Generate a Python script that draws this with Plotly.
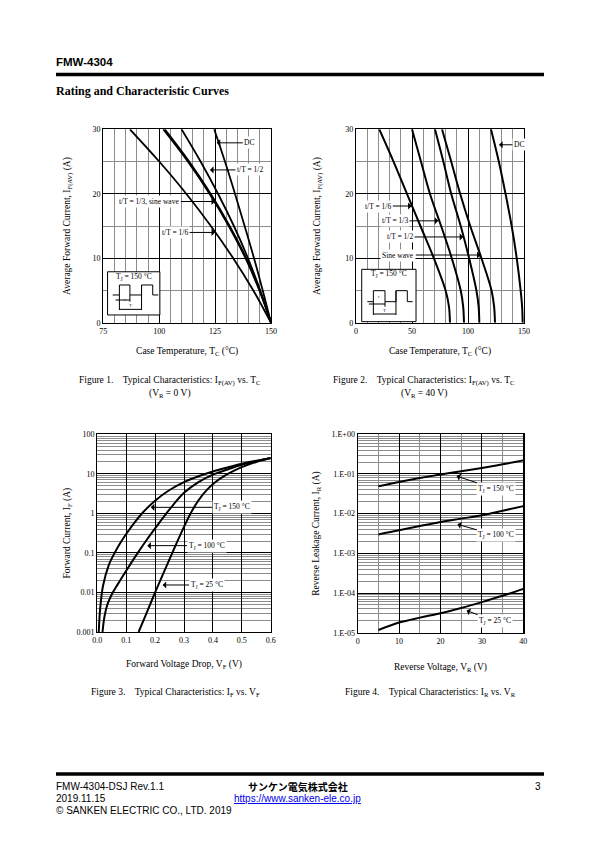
import plotly.graph_objects as go

# ---------------- DATA ----------------
# Figure 1: I_F(AV) vs Tc, VR = 0 V
f1_current = [0, 5, 10, 15, 20, 25, 30]
f1_tc_dc = [150, 146.3, 142.4, 138.2, 133.9, 129.4, 124.6]
f1_tc_half = [150, 145.2, 139.7, 133.4, 126.3, 118.5, 110.0]
f1_tc_sine = [150, 145.0, 138.9, 131.5, 123.0, 113.4, 102.5]
f1_tc_third = [150, 144.8, 138.6, 131.1, 122.5, 112.8, 101.8]
f1_tc_sixth = [150, 142.1, 133.1, 123.1, 112.1, 100.0, 86.9]

# Figure 2: I_F(AV) vs Tc, VR = 40 V
f2_current = [0, 2.5, 5, 10, 15, 20, 25, 30]
f2_tc_dc = [148.8, 148.3, 147.0, 143.5, 139.0, 133.5, 127.5, 120.5]
f2_tc_sine = [124.1, 123.3, 121.0, 112.0, 102.0, 93.0, 85.0, 76.8]
f2_tc_half = [110.1, 109.5, 107.5, 101.0, 93.5, 85.0, 78.0, 70.5]
f2_tc_third = [96.4, 95.7, 93.5, 85.5, 76.0, 66.0, 58.0, 50.0]
f2_tc_sixth = [83.9, 83.0, 80.0, 69.5, 57.5, 45.5, 33.5, 20.8]

# Figure 3: I_F vs V_F
f3_v_150 = [0.005, 0.01, 0.02, 0.04, 0.06, 0.08, 0.10, 0.13, 0.16, 0.20, 0.25, 0.30, 0.35, 0.40, 0.45, 0.50, 0.55, 0.60]
f3_i_150 = [0.001, 0.004, 0.015, 0.05, 0.1, 0.18, 0.3, 0.6, 1.1, 2.1, 3.9, 6.2, 8.7, 11.5, 14.5, 18, 21.4, 25]
f3_v_100 = [0.018, 0.025, 0.035, 0.05, 0.07, 0.10, 0.14, 0.17, 0.20, 0.25, 0.30, 0.35, 0.40, 0.45, 0.50, 0.55, 0.60]
f3_i_100 = [0.001, 0.0025, 0.005, 0.0089, 0.0158, 0.0355, 0.1, 0.209, 0.417, 1.26, 3.31, 6.17, 9.55, 12.9, 17.0, 20.9, 25.1]
f3_v_25 = [0.143, 0.17, 0.20, 0.23, 0.26, 0.29, 0.32, 0.35, 0.38, 0.41, 0.44, 0.47, 0.50, 0.55, 0.60]
f3_i_25 = [0.001, 0.00295, 0.01, 0.0324, 0.102, 0.316, 0.91, 2.14, 4.0, 6.3, 8.9, 11.7, 14.8, 20.0, 25.1]

# Figure 4: I_R vs V_R
f4_v = [5, 10, 15, 20, 25, 30, 35, 40]
f4_i_150 = [0.049, 0.063, 0.079, 0.097, 0.117, 0.142, 0.175, 0.22]
f4_i_100 = [0.0030, 0.0038, 0.0049, 0.0062, 0.0075, 0.0091, 0.0118, 0.0155]
f4_i_25 = [1.17e-5, 1.8e-5, 2.4e-5, 3.1e-5, 4.2e-5, 5.9e-5, 8.5e-5, 1.27e-4]

f3_ticks = [0.001, 0.01, 0.1, 1, 10, 100]
f3_ticklabels = ["0.001", "0.01", "0.1", "1", "10", "100"]
f4_ticks = [1e-5, 1e-4, 1e-3, 1e-2, 1e-1, 1]
f4_ticklabels = ["1.E-05", "1.E-04", "1.E-03", "1.E-02", "1.E-01", "1.E+00"]

# ---------------- STYLE ----------------
W, H = 595, 842
SERIF = "Liberation Serif"
SANS = "Liberation Sans"
GRAY = "#8c8c8c"


def px(x):
    return x / W


def py(y):
    return 1 - y / H


fig = go.Figure()

for tc in [f1_tc_dc, f1_tc_half, f1_tc_sine, f1_tc_third, f1_tc_sixth]:
    fig.add_trace(go.Scatter(x=tc, y=f1_current, mode="lines", line=dict(color="black", width=1.8, shape="spline"),
                             xaxis="x", yaxis="y", showlegend=False, hoverinfo="skip"))
for tc in [f2_tc_dc, f2_tc_sine, f2_tc_half, f2_tc_third, f2_tc_sixth]:
    fig.add_trace(go.Scatter(x=tc, y=f2_current, mode="lines", line=dict(color="black", width=2, shape="spline"),
                             xaxis="x2", yaxis="y2", showlegend=False, hoverinfo="skip"))
for v, i in [(f3_v_150, f3_i_150), (f3_v_100, f3_i_100), (f3_v_25, f3_i_25)]:
    fig.add_trace(go.Scatter(x=v, y=i, mode="lines", line=dict(color="black", width=2, shape="spline"),
                             xaxis="x3", yaxis="y3", showlegend=False, hoverinfo="skip"))
for i in [f4_i_150, f4_i_100, f4_i_25]:
    fig.add_trace(go.Scatter(x=f4_v, y=i, mode="lines", line=dict(color="black", width=2, shape="spline"),
                             xaxis="x4", yaxis="y4", showlegend=False, hoverinfo="skip"))

tickfont = dict(family=SERIF, size=8, color="black")
titlefont = dict(family=SERIF, size=9.5, color="black")


def lin_axis(domain, rng, dtick, mdtick, anchor, title, standoff):
    return dict(domain=domain, range=rng, dtick=dtick, tick0=rng[0], showgrid=True, gridcolor="black",
                gridwidth=1, minor=dict(dtick=mdtick, showgrid=True, gridcolor=GRAY, gridwidth=1, ticks=""),
                showline=True, linecolor="black", linewidth=1.2, mirror=True, ticks="", zeroline=False,
                tickfont=tickfont, anchor=anchor, fixedrange=True,
                title=dict(text=title, font=titlefont, standoff=standoff))


def log_axis(domain, rng, tickvals, ticktext, anchor, title, standoff):
    return dict(domain=domain, type="log", range=rng, tickvals=tickvals, ticktext=ticktext, showgrid=True,
                gridcolor="black", gridwidth=1,
                minor=dict(dtick="D1", showgrid=True, gridcolor=GRAY, gridwidth=1, ticks=""),
                showline=True, linecolor="black", linewidth=1.2, mirror=True, ticks="", zeroline=False,
                tickfont=tickfont, anchor=anchor, fixedrange=True,
                title=dict(text=title, font=titlefont, standoff=standoff))


fig.update_layout(
    width=W, height=H, autosize=False, margin=dict(l=0, r=0, t=0, b=0, pad=0, autoexpand=False),
    paper_bgcolor="white", plot_bgcolor="white", showlegend=False,
    xaxis=lin_axis([px(103.3), px(271)], [75, 150], 25, 5, "y", "Case Temperature, T<sub>C</sub> (°C)", 12),
    yaxis=lin_axis([py(322.7), py(129.3)], [0, 30], 10, 5, "x",
                   "Average Forward Current, I<sub>F(AV)</sub> (A)", 20),
    xaxis2=lin_axis([px(356), px(524)], [0, 150], 50, 10, "y2", "Case Temperature, T<sub>C</sub> (°C)", 12),
    yaxis2=lin_axis([py(322.7), py(129.3)], [0, 30], 10, 5, "x2",
                    "Average Forward Current, I<sub>F(AV)</sub> (A)", 22),
    xaxis3=dict(lin_axis([px(97.3), px(270.7)], [0, 0.6], 0.1, 0.1, "y3", "Forward Voltage Drop, V<sub>F</sub> (V)", 16),
                tickformat=".1f"),
    yaxis3=log_axis([py(632), py(434.3)], [-3, 2], f3_ticks, f3_ticklabels, "x3",
                    "Forward Current, I<sub>F</sub> (A)", 4),
    xaxis4=lin_axis([px(357.7), px(523.3)], [0, 40], 10, 5, "y4", "Reverse Voltage, V<sub>R</sub> (V)", 18),
    yaxis4=log_axis([py(632.7), py(434.3)], [-5, 0], f4_ticks, f4_ticklabels, "x4",
                    "Reverse Leakage Current, I<sub>R</sub> (A)", 10),
)

ann = []
afont = dict(family=SERIF, size=7.5, color="black")


def arrow(text, x, y, tx, ty, xr, yr):
    # x,y: arrow head in data coords; tx,ty: label position in data coords
    ann.append(dict(text=text, x=x, y=y, ax=tx, ay=ty, xref=xr, yref=yr, axref=xr, ayref=yr,
                    showarrow=True, arrowhead=1, arrowsize=1.2, arrowwidth=1, arrowcolor="black",
                    font=afont, bgcolor="white", borderpad=1))


arrow("DC", 125.7, 27.9, 140.3, 27.9, "x", "y")
arrow("t/T = 1/2", 122.7, 23.7, 140.6, 23.7, "x", "y")
arrow("t/T = 1/3, sine wave", 125, 18.8, 95.6, 18.8, "x", "y")
arrow("t/T = 1/6", 125, 14.0, 107.1, 14.0, "x", "y")
arrow("DC", 127.7, 27.6, 145.5, 27.6, "x2", "y2")
arrow("t/T = 1/6", 49.7, 18.1, 19.9, 18.1, "x2", "y2")
arrow("t/T = 1/3", 73.5, 15.8, 34.8, 15.8, "x2", "y2")
arrow("t/T = 1/2", 95.8, 13.3, 39.3, 13.3, "x2", "y2")
arrow("Sine wave", 111.3, 10.5, 37.8, 10.5, "x2", "y2")
arrow("T<sub>J</sub> = 150 °C", 0.185, 0.153, 0.465, 0.153, "x3", "y3")
arrow("T<sub>J</sub> = 100 °C", 0.173, -0.816, 0.378, -0.816, "x3", "y3")
arrow("T<sub>J</sub> = 25 °C", 0.226, -1.811, 0.378, -1.811, "x3", "y3")
arrow("T<sub>J</sub> = 150 °C", 23.9, -1.054, 33.5, -1.383, "x4", "y4")
arrow("T<sub>J</sub> = 100 °C", 24.1, -2.27, 33.5, -2.546, "x4", "y4")
arrow("T<sub>J</sub> = 25 °C", 26.3, -4.44, 33.1, -4.71, "x4", "y4")

ann.append(dict(text="T<sub>J</sub> = 150 °C", x=88.7, y=7.1, xref="x", yref="y", showarrow=False, font=afont))
ann.append(dict(text="T<sub>J</sub> = 150 °C", x=29.5, y=7.5, xref="x2", yref="y2", showarrow=False, font=afont))
ann.append(dict(text="t", x=84.5, y=3.6, xref="x", yref="y", showarrow=False, font=dict(family=SERIF, size=5)))
ann.append(dict(text="T", x=87.2, y=2.6, xref="x", yref="y", showarrow=False, font=dict(family=SERIF, size=5)))
ann.append(dict(text="t", x=20.7, y=4.0, xref="x2", yref="y2", showarrow=False, font=dict(family=SERIF, size=5)))
ann.append(dict(text="T", x=25.6, y=1.9, xref="x2", yref="y2", showarrow=False, font=dict(family=SERIF, size=5)))


def ptext(text, x, y, size, family=SERIF, bold=False, xanchor="left", color="black"):
    ann.append(dict(text=("<b>%s</b>" % text) if bold else text, x=px(x), y=py(y), xref="paper", yref="paper",
                    xanchor=xanchor, yanchor="middle", showarrow=False,
                    font=dict(family=family, size=size, color=color)))


ptext("FMW-4304", 54, 62, 11.5, SANS, True)
ptext("Rating and Characteristic Curves", 54, 91, 12, SERIF, True)
ptext("Figure 1.    Typical Characteristics: I<sub>F(AV)</sub> vs. T<sub>C</sub>", 170, 381, 9.5, xanchor="center")
ptext("(V<sub>R</sub> = 0 V)", 170, 393, 9.5, xanchor="center")
ptext("Figure 2.    Typical Characteristics: I<sub>F(AV)</sub> vs. T<sub>C</sub>", 424, 381, 9.5, xanchor="center")
ptext("(V<sub>R</sub> = 40 V)", 424, 393, 9.5, xanchor="center")
ptext("Figure 3.    Typical Characteristics: I<sub>F</sub> vs. V<sub>F</sub>", 175, 692, 9.5, xanchor="center")
ptext("Figure 4.    Typical Characteristics: I<sub>R</sub> vs. V<sub>R</sub>", 430, 692, 9.5, xanchor="center")
ptext("FMW-4304-DSJ Rev.1.1", 54, 786, 10, SANS)
ptext("2019.11.15", 54, 798, 10, SANS)
ptext("© SANKEN ELECTRIC CO., LTD. 2019", 54, 810, 10, SANS)
ptext("サンケン電気株式会社", 298, 786, 10, "Noto Sans CJK JP", True, xanchor="center")
ptext("<u>https://www.sanken-ele.co.jp</u>", 297, 798, 10, SANS, xanchor="center", color="#0000ee")
ptext("3", 543, 786, 10, SANS, xanchor="right")

shapes = []
shapes.append(dict(type="line", xref="paper", yref="paper", x0=px(56), x1=px(544), y0=py(74.5), y1=py(74.5),
                   line=dict(color="black", width=3.5)))
shapes.append(dict(type="line", xref="paper", yref="paper", x0=px(56), x1=px(544), y0=py(774), y1=py(774),
                   line=dict(color="black", width=3.5)))

thin = dict(color="black", width=1)
shapes.append(dict(type="rect", xref="x", yref="y", x0=76.9, x1=100.3, y0=1.2, y1=7.9, line=thin,
                   fillcolor="white", layer="above"))
shapes.append(dict(type="path", xref="x", yref="y", layer="above", line=thin,
                   path="M79.2,4.3 L82.2,4.3 L82.2,5.85 L86.9,5.85 L86.9,4.3 L92.1,4.3 L92.1,5.85 L97.1,5.85 L97.1,4.3 L99.6,4.3"))
shapes.append(dict(type="path", xref="x", yref="y", layer="above", line=thin,
                   path="M82.2,4.3 L82.2,1.97 M86.9,4.3 L86.9,3.26 M92.1,5.85 L92.1,1.97 M80.5,3.52 L86.9,3.52 M82.2,2.07 L92.1,2.07"))
shapes.append(dict(type="rect", xref="x2", yref="y2", x0=5.1, x1=53.6, y0=0.16, y1=8.28, line=thin,
                   fillcolor="white", layer="above"))
shapes.append(dict(type="path", xref="x2", yref="y2", layer="above", line=thin,
                   path="M10.1,3.26 L15.5,3.26 L15.5,4.97 L25.9,4.97 L25.9,3.26 L35.7,3.26 L35.7,4.97 L45.8,4.97 L45.8,3.26 L50.6,3.26"))
shapes.append(dict(type="path", xref="x2", yref="y2", layer="above", line=thin,
                   path="M15.5,3.26 L15.5,1.2 M25.9,3.26 L25.9,2.48 M35.7,4.97 L35.7,1.2 M11.5,2.9 L25.9,2.9 M15.5,1.35 L35.7,1.35"))

fig.update_layout(annotations=ann, shapes=shapes)
fig.write_html("out.html", config={"displayModeBar": False, "staticPlot": True},
               post_script="document.documentElement.style.margin='0';document.body.style.margin='0';"
                           "document.body.style.padding='0';document.documentElement.style.overflow='hidden';"
                           "document.body.style.overflow='hidden';document.documentElement.style.height='842px';"
                           "document.body.style.height='842px';")
